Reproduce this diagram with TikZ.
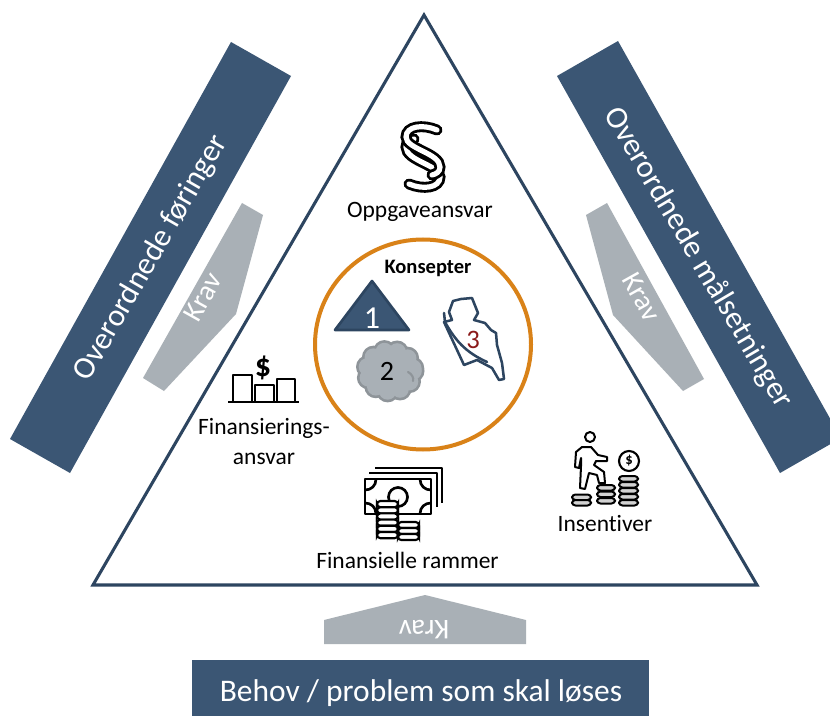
\documentclass[tikz,border=0pt]{standalone}
\usepackage{fontspec}
\setmainfont{Carlito}[Ligatures=NoCommon]
\definecolor{navy}{HTML}{3B5674}
\definecolor{grayk}{HTML}{A9B0B6}
\definecolor{cloudline}{HTML}{8E9499}
\definecolor{orangec}{HTML}{D98218}
\definecolor{darkline}{HTML}{2D4560}
\definecolor{darkred}{HTML}{8B1A1A}
\tikzset{
 band/.style={fill=navy,draw=none},
 kravshape/.style={fill=grayk,draw=none},
 bandtext/.style={text=white,font=\fontsize{23.6}{28}\selectfont},
 kravtext/.style={text=white,font=\fontsize{21.5}{24}\selectfont},
 label/.style={text=black,font=\fontsize{17.6}{22.5}\selectfont,align=center},
 icon/.style={draw=black,line width=2pt,fill=none,line join=round},
 coinrow/.style={draw=black,fill=white,line width=1.6pt,rounded corners=2.5pt},
 stepcoin/.style={draw=black,fill=gray!35,line width=1.5pt,rounded corners=2.5pt},
 parablack/.style={draw=black,line width=8.2pt,line cap=round},
 parawhite/.style={draw=white,line width=3.9pt,line cap=round},
}
\begin{document}
\begin{tikzpicture}[x=0.75pt,y=-0.75pt]
\useasboundingbox (0,0) rectangle (830,716);
\fill[white] (0,0) rectangle (830,716);
% bands
\fill[band] (231,42) -- (291,76) -- (70,473) -- (10,439) -- cycle;
\begin{scope}
\clip (0,0) rectangle (830,716);
\fill[band] (557,76) -- (618,41) -- (841,438) -- (780,473) -- cycle;
\end{scope}
\fill[band] (192,660) rectangle (649,716);
\node[bandtext,rotate=60] (lb) at (151,258) {Overordnede føringer};
\node[bandtext,rotate=-59.5] (rb) at (698,258) {Overordnede målsetninger};
\node[bandtext] (bb) at (421,693) {Behov / problem som skal løses};
% krav
\fill[kravshape] (242,203) -- (263,215) -- (236,314) -- (164,391) -- (143,378) -- cycle;
\fill[kravshape] (607,203) -- (586,215) -- (613,315) -- (683,391) -- (704,379) -- cycle;
\fill[kravshape] (324,620) -- (425,595) -- (526,620) -- (526,644) -- (324,644) -- cycle;
\node[kravtext,rotate=60.8] (k1) at (203,297) {Krav};
\node[kravtext,rotate=-60.8] (k2) at (642,297) {Krav};
\node[kravtext,rotate=180] (k3) at (424,630) {Krav};
% triangle
\draw[draw=darkline,line width=2.3pt,line join=miter] (424,15) -- (757,585) -- (93,585) -- cycle;
% circle
\draw[orangec,line width=3pt] (423,344.5) ellipse (108 and 105);
\node[font=\bfseries\fontsize{15.4}{18}\selectfont] (kon) at (428,268) {Konsepter};
% small triangle
\draw[fill=navy,draw=darkline,line width=2pt,line join=round] (372,281) -- (409,330) -- (335,330) -- cycle;
\node[text=white,font=\fontsize{24}{26}\selectfont] (n1) at (372,318) {1};
% cloud
\foreach \a in {0,32,...,359}{
 \fill[cloudline] (390,371) ++(\a:23 and 20) circle (11.5);
}
\foreach \a in {0,32,...,359}{
 \fill[grayk] (390,371) ++(\a:23 and 20) circle (8.8);
}
\fill[grayk] (390,371) ellipse (24 and 22);
\draw[cloudline,line width=1.6pt,line cap=round] (408,372) .. controls (412,374) and (414,378) .. (413,381);
\node[font=\fontsize{21}{24}\selectfont] (n2) at (387,371) {2};
% map
\draw[darkline,line width=1.9pt,line join=round,line cap=round]
 (444,322) -- (452,320) -- (449,312) -- (453,301) -- (461,299) -- (472,298) -- (478,313) -- (474,320)
 -- (485,323) -- (491,330) -- (496,333) -- (497,345) -- (502,363) -- (504,379) -- (499,380)
 -- (492,368) -- (477,360) -- (464,365) -- cycle;
\draw[darkline,line width=1.9pt,line cap=round] (444,313) -- (445,322) .. controls (455,340) and (465,352) .. (487,362);
\node[text=darkred,font=\fontsize{20}{22}\selectfont] (n3) at (473,340) {3};
% paragraph sign
\begin{scope}[shift={(423,157)}]
 \draw[parablack] (-14,27) .. controls (0,33) and (17,31) .. (17,20) .. controls (17,8) and (-17,4) .. (-17,-10) .. controls (-17,-15) and (-13,-17) .. (-9,-18);
 \draw[parawhite] (-14,27) .. controls (0,33) and (17,31) .. (17,20) .. controls (17,8) and (-17,4) .. (-17,-10) .. controls (-17,-15) and (-13,-17) .. (-9,-18);
 \draw[parablack] (14,-27) .. controls (0,-33) and (-17,-31) .. (-17,-20) .. controls (-17,-8) and (17,-4) .. (17,10) .. controls (17,15) and (13,17) .. (9,18);
 \draw[parawhite] (14,-27) .. controls (0,-33) and (-17,-31) .. (-17,-20) .. controls (-17,-8) and (17,-4) .. (17,10) .. controls (17,15) and (13,17) .. (9,18);
\end{scope}
\node[label] (opp) at (420,212) {Oppgaveansvar};
% finansieringsansvar icon
\draw[icon] (228,402) -- (299,402);
\draw[icon] (233,402) -- (233,375) -- (252,375) -- (252,402);
\draw[icon] (255,402) -- (255,385) -- (274,385) -- (274,402);
\draw[icon] (277,402) -- (277,379) -- (295,379) -- (295,402);
\node[font=\bfseries\fontsize{24}{26}\selectfont] (dollar) at (263,368) {\$};
\node[label] (fin) at (264,442) {Finansierings-\\ansvar};
% money icon
\draw[icon] (375,468) -- (442,468) -- (442,503);
\draw[icon] (369,473) -- (437,473) -- (437,507);
\draw[icon,fill=white] (365,479) rectangle (431,514);
\draw[icon] (365,490) .. controls (371,490) and (376,486) .. (376,479);
\draw[icon] (431,490) .. controls (425,490) and (420,486) .. (420,479);
\draw[icon] (431,503) .. controls (425,503) and (420,507) .. (420,514);
\draw[icon] (365,503) .. controls (371,503) and (376,507) .. (376,514);
\draw[icon] (398,497) circle (9.5);
\foreach \yy in {501,507.2,513.4,519.6,525.8,532}{
 \draw[coinrow] (377,\yy) rectangle (398,\yy+6.2);
}
\foreach \yy in {522,528,534}{
 \draw[coinrow] (398,\yy) rectangle (419,\yy+6);
}
\node[label] (fr) at (407.5,560) {Finansielle rammer};
% insentiver icon
\begin{scope}[line join=round]
\draw[black,line width=1.5pt] (590,437) circle (5);
\draw[black,line width=1.5pt] (582,447) -- (591,447) -- (598,455) -- (607,457) -- (607,461) -- (596,461) -- (594,465) -- (604,472) -- (605,483) -- (599,483) -- (597,475) -- (589,473) -- (585,489) -- (580,488) -- (581,466) -- (581,458) -- (579,468) -- (575,467) -- (576,452) -- cycle;
\draw[black,line width=1.6pt] (629,461) circle (10);
\node[font=\bfseries\fontsize{11}{12}\selectfont] (coin) at (629,461) {\$};
\foreach \xa/\xb/\ys in {572/591/{494.5,500}, 597/615/{485,491.5,498}, 619/638/{476,482,488,494,500}}{
 \foreach \yy in \ys {
  \draw[stepcoin] (\xa,\yy) rectangle (\xb,\yy+5.5);
 }
}
\end{scope}
\node[label] (ins) at (605,524) {Insentiver};
\end{tikzpicture}
\end{document}
